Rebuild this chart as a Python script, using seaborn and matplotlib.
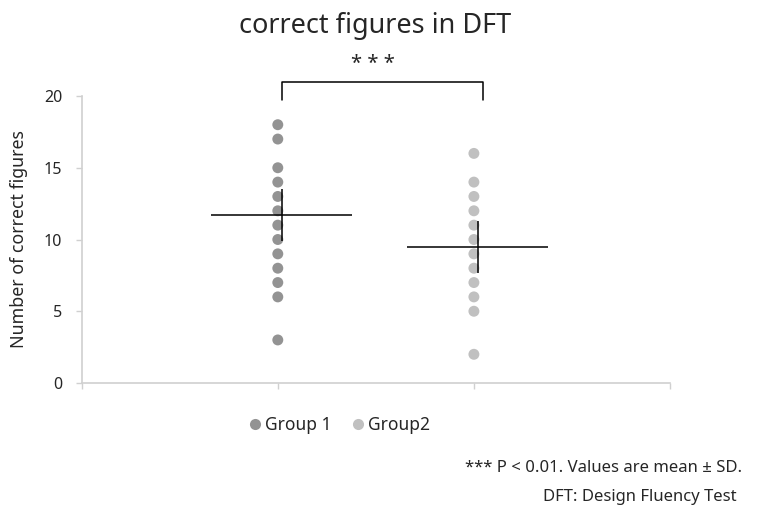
import matplotlib
matplotlib.use("Agg")
import matplotlib.pyplot as plt
from matplotlib.lines import Line2D
import numpy as np
import pandas as pd
import seaborn as sns

# Scores (number of correct figures) for each group
group1_scores = [18, 17, 15, 14, 13, 12, 11, 10, 9, 8, 7, 6, 3]
group2_scores = [16, 14, 13, 12, 11, 10, 9, 8, 7, 6, 5, 2]
group_names = ["Group 1", "Group2"]
group_means = [11.7, 9.5]
group_errors = [1.8, 1.8]
y_ticks = [0, 5, 10, 15, 20]

title_text = "correct figures in DFT"
y_label = "Number of correct figures"
sig_text = "* * *"
note_lines = ["*** P < 0.01. Values are mean \u00b1 SD.", "DFT: Design Fluency Test"]

colors = ["#939393", "#c0c0c0"]
text_color = "#262626"
axis_color = "#d0d0d0"

sns.set_theme(style="white")
plt.rcParams["font.family"] = ["Noto Sans", "Noto Sans CJK JP", "DejaVu Sans"]

df = pd.DataFrame({
    "group": [group_names[0]] * len(group1_scores) + [group_names[1]] * len(group2_scores),
    "score": group1_scores + group2_scores,
})
df["pos"] = df["group"].map({name: i + 1 for i, name in enumerate(group_names)})

fig = plt.figure(figsize=(7.58, 5.17), dpi=100)
ax = fig.add_axes([81.7 / 758, 1 - 383 / 517, (670 - 81.7) / 758, (383 - 96) / 517])

sns.scatterplot(data=df, x="pos", y="score", hue="group", palette=colors,
                s=62, linewidth=0, ax=ax, legend=False, zorder=2)

# Mean lines and SD bars
for i, (m, e) in enumerate(zip(group_means, group_errors)):
    x = i + 1
    ax.hlines(m, x - 0.34, x + 0.38, color="black", linewidth=1.1, zorder=3)
    ax.vlines(x + 0.02, m - e, m + e, color="black", linewidth=1.1, zorder=3)

ax.set_xlim(0, 3)
ax.set_ylim(0, 20)
ax.set_yticks(y_ticks)
ax.set_xticks([0, 1, 2, 3])
ax.set_xticklabels([])
ax.set_xlabel("")
ax.set_ylabel(y_label, fontsize=12.8, color=text_color, labelpad=11)
ax.tick_params(axis="y", labelsize=11.5, colors=axis_color, labelcolor=text_color,
               left=True, length=4, width=1, pad=10)
ax.tick_params(axis="x", bottom=True, length=4, width=1, colors=axis_color)

for side in ["top", "right"]:
    ax.spines[side].set_visible(False)
for side in ["left", "bottom"]:
    ax.spines[side].set_color(axis_color)
    ax.spines[side].set_linewidth(1.2)

# Significance bracket
ax.plot([1.023, 1.023, 2.048, 2.048], [19.7, 21.0, 21.0, 19.7],
        color="black", linewidth=1.1, clip_on=False)
ax.text(1.485, 22.2, sig_text, ha="center", va="center", fontsize=14.5, color=text_color)

fig.text(375 / 758, 1 - 26 / 517, title_text, ha="center", va="center", fontsize=19.5, color=text_color)

handles = [Line2D([], [], marker="o", linestyle="", markersize=8,
                  markerfacecolor=c, markeredgewidth=0) for c in colors]
fig.legend(handles, group_names, loc="center", bbox_to_anchor=(336 / 758, 1 - 425 / 517),
           ncol=2, frameon=False, fontsize=12.5, handletextpad=-0.2, columnspacing=0.8,
           handlelength=1.5, labelcolor=text_color)

fig.text(604 / 758, 1 - 468 / 517, note_lines[0], ha="center", va="center",
         fontsize=12, color=text_color)
fig.text(640 / 758, 1 - 497 / 517, note_lines[1], ha="center", va="center",
         fontsize=12, color=text_color)

fig.savefig("out.png", dpi=100)
